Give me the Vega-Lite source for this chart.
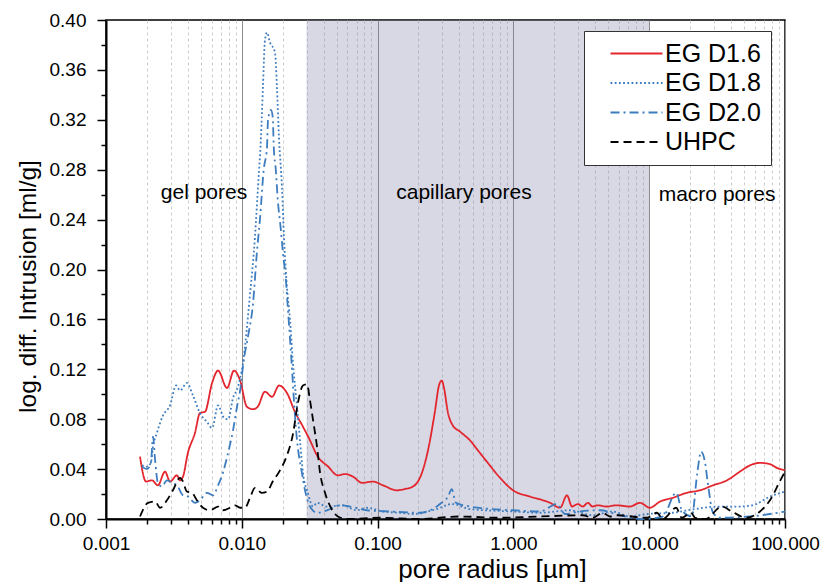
{
  "$schema": "https://vega.github.io/schema/vega-lite/v6.json",
  "width": 679,
  "height": 499,
  "autosize": "none",
  "padding": {"left": 106, "top": 20, "right": 39, "bottom": 63},
  "background": "white",
  "config": {
    "font": "Liberation Sans",
    "view": {"stroke": "black", "strokeWidth": 1.5},
    "axis": {
      "domainColor": "black", "domainWidth": 2,
      "tickColor": "black", "tickWidth": 1.5,
      "labelColor": "black", "titleColor": "black",
      "labelFont": "Liberation Sans", "titleFont": "Liberation Sans",
      "labelFontSize": 19, "titleFontSize": 26, "titleFontWeight": "normal",
      "labelPadding": 6
    }
  },
  "datasets": {
    "bands": [{"r": 0.03, "r2": 10}],
    "labels": [
      {"label": "gel pores", "r": 0.00527, "v": 0.2613},
      {"label": "capillary pores", "r": 0.4325, "v": 0.2613},
      {"label": "macro pores", "r": 31.6, "v": 0.2597}
    ],
    "curves": [
      {"series":"EG D1.6","r":0.00178,"v":0.050},{"series":"EG D1.6","r":0.00197,"v":0.030},{"series":"EG D1.6","r":0.00218,"v":0.031},{"series":"EG D1.6","r":0.00241,"v":0.027},{"series":"EG D1.6","r":0.00272,"v":0.038},{"series":"EG D1.6","r":0.00296,"v":0.030},{"series":"EG D1.6","r":0.00333,"v":0.035},{"series":"EG D1.6","r":0.00351,"v":0.031},{"series":"EG D1.6","r":0.00369,"v":0.034},{"series":"EG D1.6","r":0.00401,"v":0.053},{"series":"EG D1.6","r":0.00452,"v":0.069},{"series":"EG D1.6","r":0.00492,"v":0.085},{"series":"EG D1.6","r":0.00536,"v":0.086},{"series":"EG D1.6","r":0.00604,"v":0.109},{"series":"EG D1.6","r":0.00669,"v":0.119},{"series":"EG D1.6","r":0.00778,"v":0.105},{"series":"EG D1.6","r":0.00876,"v":0.119},{"series":"EG D1.6","r":0.00972,"v":0.111},{"series":"EG D1.6","r":0.0109,"v":0.090},{"series":"EG D1.6","r":0.0121,"v":0.088},{"series":"EG D1.6","r":0.0131,"v":0.090},{"series":"EG D1.6","r":0.0148,"v":0.102},{"series":"EG D1.6","r":0.0167,"v":0.098},{"series":"EG D1.6","r":0.0188,"v":0.107},{"series":"EG D1.6","r":0.0215,"v":0.101},{"series":"EG D1.6","r":0.0246,"v":0.086},{"series":"EG D1.6","r":0.0282,"v":0.074},{"series":"EG D1.6","r":0.0318,"v":0.063},{"series":"EG D1.6","r":0.0358,"v":0.051},{"series":"EG D1.6","r":0.0432,"v":0.042},{"series":"EG D1.6","r":0.0510,"v":0.035},{"series":"EG D1.6","r":0.0575,"v":0.036},{"series":"EG D1.6","r":0.0658,"v":0.034},{"series":"EG D1.6","r":0.0766,"v":0.029},{"series":"EG D1.6","r":0.0924,"v":0.030},{"series":"EG D1.6","r":0.1095,"v":0.027},{"series":"EG D1.6","r":0.139,"v":0.023},{"series":"EG D1.6","r":0.158,"v":0.024},{"series":"EG D1.6","r":0.182,"v":0.026},{"series":"EG D1.6","r":0.212,"v":0.037},{"series":"EG D1.6","r":0.235,"v":0.055},{"series":"EG D1.6","r":0.265,"v":0.087},{"series":"EG D1.6","r":0.283,"v":0.107},{"series":"EG D1.6","r":0.297,"v":0.111},{"series":"EG D1.6","r":0.307,"v":0.106},{"series":"EG D1.6","r":0.330,"v":0.085},{"series":"EG D1.6","r":0.358,"v":0.075},{"series":"EG D1.6","r":0.405,"v":0.070},{"series":"EG D1.6","r":0.479,"v":0.063},{"series":"EG D1.6","r":0.548,"v":0.055},{"series":"EG D1.6","r":0.648,"v":0.045},{"series":"EG D1.6","r":0.797,"v":0.033},{"series":"EG D1.6","r":0.993,"v":0.023},{"series":"EG D1.6","r":1.325,"v":0.018},{"series":"EG D1.6","r":1.861,"v":0.013},{"series":"EG D1.6","r":2.205,"v":0.009},{"series":"EG D1.6","r":2.48,"v":0.019},{"series":"EG D1.6","r":2.70,"v":0.010},{"series":"EG D1.6","r":2.98,"v":0.012},{"series":"EG D1.6","r":3.24,"v":0.010},{"series":"EG D1.6","r":3.53,"v":0.013},{"series":"EG D1.6","r":3.83,"v":0.010},{"series":"EG D1.6","r":4.16,"v":0.011},{"series":"EG D1.6","r":4.84,"v":0.010},{"series":"EG D1.6","r":5.73,"v":0.011},{"series":"EG D1.6","r":7.22,"v":0.010},{"series":"EG D1.6","r":8.55,"v":0.013},{"series":"EG D1.6","r":10.1,"v":0.009},{"series":"EG D1.6","r":12.03,"v":0.014},{"series":"EG D1.6","r":14.9,"v":0.017},{"series":"EG D1.6","r":18.9,"v":0.021},{"series":"EG D1.6","r":23.66,"v":0.023},{"series":"EG D1.6","r":29.5,"v":0.027},{"series":"EG D1.6","r":37.4,"v":0.031},{"series":"EG D1.6","r":46.6,"v":0.038},{"series":"EG D1.6","r":55.2,"v":0.043},{"series":"EG D1.6","r":65.4,"v":0.045},{"series":"EG D1.6","r":77.5,"v":0.044},{"series":"EG D1.6","r":87.1,"v":0.041},{"series":"EG D1.6","r":100,"v":0.039},

      {"series":"EG D1.8","r":0.00184,"v":0.043},{"series":"EG D1.8","r":0.0020,"v":0.042},{"series":"EG D1.8","r":0.00214,"v":0.045},{"series":"EG D1.8","r":0.00222,"v":0.058},{"series":"EG D1.8","r":0.00237,"v":0.069},{"series":"EG D1.8","r":0.00263,"v":0.083},{"series":"EG D1.8","r":0.00296,"v":0.091},{"series":"EG D1.8","r":0.00328,"v":0.107},{"series":"EG D1.8","r":0.00351,"v":0.103},{"series":"EG D1.8","r":0.00394,"v":0.109},{"series":"EG D1.8","r":0.00437,"v":0.099},{"series":"EG D1.8","r":0.00492,"v":0.085},{"series":"EG D1.8","r":0.00553,"v":0.078},{"series":"EG D1.8","r":0.00604,"v":0.073},{"series":"EG D1.8","r":0.00669,"v":0.091},{"series":"EG D1.8","r":0.00739,"v":0.081},{"series":"EG D1.8","r":0.00792,"v":0.080},{"series":"EG D1.8","r":0.00862,"v":0.097},{"series":"EG D1.8","r":0.00937,"v":0.106},{"series":"EG D1.8","r":0.0102,"v":0.125},{"series":"EG D1.8","r":0.01149,"v":0.180},{"series":"EG D1.8","r":0.0125,"v":0.226},{"series":"EG D1.8","r":0.01316,"v":0.266},{"series":"EG D1.8","r":0.01384,"v":0.306},{"series":"EG D1.8","r":0.01431,"v":0.346},{"series":"EG D1.8","r":0.01482,"v":0.384},{"series":"EG D1.8","r":0.01533,"v":0.390},{"series":"EG D1.8","r":0.01613,"v":0.382},{"series":"EG D1.8","r":0.01756,"v":0.374},{"series":"EG D1.8","r":0.01815,"v":0.346},{"series":"EG D1.8","r":0.01878,"v":0.306},{"series":"EG D1.8","r":0.01976,"v":0.266},{"series":"EG D1.8","r":0.02044,"v":0.226},{"series":"EG D1.8","r":0.0215,"v":0.186},{"series":"EG D1.8","r":0.02264,"v":0.160},{"series":"EG D1.8","r":0.0238,"v":0.125},{"series":"EG D1.8","r":0.0255,"v":0.090},{"series":"EG D1.8","r":0.02683,"v":0.063},{"series":"EG D1.8","r":0.0282,"v":0.037},{"series":"EG D1.8","r":0.0306,"v":0.021},{"series":"EG D1.8","r":0.0335,"v":0.010},{"series":"EG D1.8","r":0.0358,"v":0.013},{"series":"EG D1.8","r":0.0424,"v":0.010},{"series":"EG D1.8","r":0.0555,"v":0.011},{"series":"EG D1.8","r":0.0702,"v":0.007},{"series":"EG D1.8","r":0.0834,"v":0.009},{"series":"EG D1.8","r":0.1095,"v":0.006},{"series":"EG D1.8","r":0.146,"v":0.005},{"series":"EG D1.8","r":0.182,"v":0.004},{"series":"EG D1.8","r":0.272,"v":0.008},{"series":"EG D1.8","r":0.352,"v":0.012},{"series":"EG D1.8","r":0.479,"v":0.008},{"series":"EG D1.8","r":0.993,"v":0.006},{"series":"EG D1.8","r":1.57,"v":0.005},{"series":"EG D1.8","r":2.612,"v":0.007},{"series":"EG D1.8","r":3.83,"v":0.003},{"series":"EG D1.8","r":5.36,"v":0.006},{"series":"EG D1.8","r":7.22,"v":0.002},{"series":"EG D1.8","r":9.69,"v":0.004},{"series":"EG D1.8","r":14.9,"v":0.005},{"series":"EG D1.8","r":21.8,"v":0.008},{"series":"EG D1.8","r":33.2,"v":0.010},{"series":"EG D1.8","r":46.6,"v":0.010},{"series":"EG D1.8","r":57.6,"v":0.011},{"series":"EG D1.8","r":77.5,"v":0.018},{"series":"EG D1.8","r":100,"v":0.022},

      {"series":"EG D2.0","r":0.00184,"v":0.042},{"series":"EG D2.0","r":0.0020,"v":0.040},{"series":"EG D2.0","r":0.00214,"v":0.045},{"series":"EG D2.0","r":0.00222,"v":0.066},{"series":"EG D2.0","r":0.0023,"v":0.047},{"series":"EG D2.0","r":0.00241,"v":0.029},{"series":"EG D2.0","r":0.00258,"v":0.026},{"series":"EG D2.0","r":0.00281,"v":0.031},{"series":"EG D2.0","r":0.00306,"v":0.029},{"series":"EG D2.0","r":0.00333,"v":0.027},{"series":"EG D2.0","r":0.00369,"v":0.019},{"series":"EG D2.0","r":0.00401,"v":0.018},{"series":"EG D2.0","r":0.00452,"v":0.013},{"series":"EG D2.0","r":0.00492,"v":0.015},{"series":"EG D2.0","r":0.00553,"v":0.021},{"series":"EG D2.0","r":0.00614,"v":0.019},{"series":"EG D2.0","r":0.00669,"v":0.027},{"series":"EG D2.0","r":0.00726,"v":0.037},{"series":"EG D2.0","r":0.00792,"v":0.053},{"series":"EG D2.0","r":0.00862,"v":0.071},{"series":"EG D2.0","r":0.00922,"v":0.090},{"series":"EG D2.0","r":0.00972,"v":0.103},{"series":"EG D2.0","r":0.01033,"v":0.127},{"series":"EG D2.0","r":0.0111,"v":0.146},{"series":"EG D2.0","r":0.0121,"v":0.173},{"series":"EG D2.0","r":0.0129,"v":0.213},{"series":"EG D2.0","r":0.0136,"v":0.240},{"series":"EG D2.0","r":0.0145,"v":0.280},{"series":"EG D2.0","r":0.01533,"v":0.298},{"series":"EG D2.0","r":0.0156,"v":0.320},{"series":"EG D2.0","r":0.0164,"v":0.328},{"series":"EG D2.0","r":0.0169,"v":0.322},{"series":"EG D2.0","r":0.0172,"v":0.298},{"series":"EG D2.0","r":0.0178,"v":0.280},{"series":"EG D2.0","r":0.0184,"v":0.256},{"series":"EG D2.0","r":0.0193,"v":0.234},{"series":"EG D2.0","r":0.0201,"v":0.213},{"series":"EG D2.0","r":0.0211,"v":0.192},{"series":"EG D2.0","r":0.0218,"v":0.170},{"series":"EG D2.0","r":0.0226,"v":0.146},{"series":"EG D2.0","r":0.0255,"v":0.063},{"series":"EG D2.0","r":0.0277,"v":0.037},{"series":"EG D2.0","r":0.0292,"v":0.023},{"series":"EG D2.0","r":0.0318,"v":0.010},{"series":"EG D2.0","r":0.0358,"v":0.005},{"series":"EG D2.0","r":0.0424,"v":0.007},{"series":"EG D2.0","r":0.0528,"v":0.011},{"series":"EG D2.0","r":0.0626,"v":0.010},{"series":"EG D2.0","r":0.0834,"v":0.007},{"series":"EG D2.0","r":0.1234,"v":0.006},{"series":"EG D2.0","r":0.205,"v":0.005},{"series":"EG D2.0","r":0.288,"v":0.012},{"series":"EG D2.0","r":0.330,"v":0.018},{"series":"EG D2.0","r":0.3515,"v":0.024},{"series":"EG D2.0","r":0.377,"v":0.013},{"series":"EG D2.0","r":0.479,"v":0.010},{"series":"EG D2.0","r":0.673,"v":0.008},{"series":"EG D2.0","r":0.993,"v":0.007},{"series":"EG D2.0","r":1.57,"v":0.006},{"series":"EG D2.0","r":2.09,"v":0.012},{"series":"EG D2.0","r":2.40,"v":0.004},{"series":"EG D2.0","r":3.09,"v":0.006},{"series":"EG D2.0","r":4.34,"v":0.007},{"series":"EG D2.0","r":6.09,"v":0.003},{"series":"EG D2.0","r":8.84,"v":0.000},{"series":"EG D2.0","r":12.6,"v":0.002},{"series":"EG D2.0","r":15.8,"v":0.021},{"series":"EG D2.0","r":17.4,"v":0.007},{"series":"EG D2.0","r":20.6,"v":0.002},{"series":"EG D2.0","r":22.6,"v":0.037},{"series":"EG D2.0","r":24.1,"v":0.054},{"series":"EG D2.0","r":25.8,"v":0.045},{"series":"EG D2.0","r":27.0,"v":0.029},{"series":"EG D2.0","r":29.5,"v":0.005},{"series":"EG D2.0","r":33.2,"v":0.001},{"series":"EG D2.0","r":55.2,"v":0.002},{"series":"EG D2.0","r":77.5,"v":0.004},{"series":"EG D2.0","r":100,"v":0.006},

      {"series":"UHPC","r":0.00178,"v":0.002},{"series":"UHPC","r":0.00204,"v":0.013},{"series":"UHPC","r":0.0023,"v":0.014},{"series":"UHPC","r":0.0025,"v":0.009},{"series":"UHPC","r":0.00281,"v":0.015},{"series":"UHPC","r":0.00311,"v":0.023},{"series":"UHPC","r":0.00351,"v":0.033},{"series":"UHPC","r":0.00369,"v":0.030},{"series":"UHPC","r":0.00394,"v":0.022},{"series":"UHPC","r":0.00429,"v":0.021},{"series":"UHPC","r":0.00467,"v":0.015},{"series":"UHPC","r":0.00518,"v":0.009},{"series":"UHPC","r":0.00583,"v":0.007},{"series":"UHPC","r":0.00669,"v":0.010},{"series":"UHPC","r":0.00726,"v":0.007},{"series":"UHPC","r":0.00819,"v":0.009},{"series":"UHPC","r":0.00891,"v":0.011},{"series":"UHPC","r":0.00972,"v":0.009},{"series":"UHPC","r":0.01056,"v":0.009},{"series":"UHPC","r":0.01149,"v":0.017},{"series":"UHPC","r":0.0125,"v":0.025},{"series":"UHPC","r":0.0140,"v":0.021},{"series":"UHPC","r":0.01533,"v":0.022},{"series":"UHPC","r":0.0169,"v":0.030},{"series":"UHPC","r":0.0191,"v":0.039},{"series":"UHPC","r":0.0215,"v":0.051},{"series":"UHPC","r":0.0238,"v":0.068},{"series":"UHPC","r":0.0259,"v":0.093},{"series":"UHPC","r":0.0282,"v":0.107},{"series":"UHPC","r":0.0302,"v":0.108},{"series":"UHPC","r":0.0318,"v":0.095},{"series":"UHPC","r":0.0335,"v":0.079},{"series":"UHPC","r":0.0358,"v":0.058},{"series":"UHPC","r":0.0377,"v":0.037},{"series":"UHPC","r":0.041,"v":0.021},{"series":"UHPC","r":0.0464,"v":0.007},{"series":"UHPC","r":0.0510,"v":0.002},{"series":"UHPC","r":0.0594,"v":0.000},{"series":"UHPC","r":0.104,"v":0.001},{"series":"UHPC","r":0.205,"v":0.000},{"series":"UHPC","r":0.40,"v":0.002},{"series":"UHPC","r":0.80,"v":0.001},{"series":"UHPC","r":1.57,"v":0.002},{"series":"UHPC","r":3.24,"v":0.003},{"series":"UHPC","r":3.83,"v":0.001},{"series":"UHPC","r":4.55,"v":0.005},{"series":"UHPC","r":5.14,"v":0.002},{"series":"UHPC","r":5.73,"v":0.003},{"series":"UHPC","r":9.69,"v":0.001},{"series":"UHPC","r":11.4,"v":0.005},{"series":"UHPC","r":12.6,"v":0.000},{"series":"UHPC","r":15.8,"v":0.009},{"series":"UHPC","r":17.4,"v":0.001},{"series":"UHPC","r":20.3,"v":0.005},{"series":"UHPC","r":21.8,"v":0.001},{"series":"UHPC","r":25.9,"v":0.000},{"series":"UHPC","r":34.3,"v":0.010},{"series":"UHPC","r":40.6,"v":0.006},{"series":"UHPC","r":51.9,"v":0.001},{"series":"UHPC","r":65.4,"v":0.006},{"series":"UHPC","r":77.5,"v":0.015},{"series":"UHPC","r":92.4,"v":0.031},{"series":"UHPC","r":100,"v":0.038}
    ]
  },
  "encoding": {
    "x": {
      "field": "r", "type": "quantitative",
      "scale": {"type": "log", "domain": [0.001, 100], "nice": false},
      "axis": {
        "title": "pore radius [µm]",
        "values": [0.001,0.002,0.003,0.004,0.005,0.006,0.007,0.008,0.009,0.01,0.02,0.03,0.04,0.05,0.06,0.07,0.08,0.09,0.1,0.2,0.3,0.4,0.5,0.6,0.7,0.8,0.9,1,2,3,4,5,6,7,8,9,10,20,30,40,50,60,70,80,90,100],
        "labelExpr": "abs(log(datum.value)/LN10 - round(log(datum.value)/LN10)) < 0.001 ? format(datum.value, '.3f') : ''",
        "labelOverlap": false,
        "labelFlush": false,
        "labelPadding": 6,
        "tickSize": {"condition": {"test": "abs(log(datum.value)/LN10 - round(log(datum.value)/LN10)) < 0.001", "value": 9}, "value": 5},
        "grid": true,
        "gridDash": {"condition": {"test": "abs(log(datum.value)/LN10 - round(log(datum.value)/LN10)) < 0.001", "value": []}, "value": [3, 3]},
        "gridColor": {"condition": {"test": "abs(log(datum.value)/LN10 - round(log(datum.value)/LN10)) < 0.001", "value": "#8c8c8c"}, "value": "#cdcdcd"},
        "gridWidth": 1,
        "titleX": 386,
        "titleY": 50,
        "titleBaseline": "middle"
      }
    },
    "y": {
      "field": "v", "type": "quantitative",
      "scale": {"domain": [0, 0.4], "nice": false},
      "axis": {
        "title": "log. diff. Intrusion [ml/g]",
        "titleFontSize": 24.5,
        "values": [0,0.02,0.04,0.06,0.08,0.1,0.12,0.14,0.16,0.18,0.2,0.22,0.24,0.26,0.28,0.3,0.32,0.34,0.36,0.38,0.4],
        "labelExpr": "abs(datum.value*25 - round(datum.value*25)) < 0.001 ? format(datum.value, '.2f') : ''",
        "labelOverlap": false,
        "labelFlush": false,
        "labelPadding": 11,
        "tickSize": {"condition": {"test": "abs(datum.value*25 - round(datum.value*25)) < 0.001", "value": 9}, "value": 5},
        "grid": false,
        "titleX": -78,
        "titleY": 266,
        "titleBaseline": "middle"
      }
    }
  },
  "layer": [
    {
      "data": {"name": "bands"},
      "mark": {"type": "rect", "fill": "#7d7da5", "fillOpacity": 0.3},
      "encoding": {
        "x2": {"field": "r2"},
        "y": {"value": 0},
        "y2": {"value": "height"}
      }
    },
    {
      "data": {"name": "curves"},
      "mark": {"type": "line", "interpolate": "monotone", "strokeWidth": 1.8},
      "encoding": {
        "color": {
          "field": "series", "type": "nominal",
          "scale": {"domain": ["EG D1.6", "EG D1.8", "EG D2.0", "UHPC"], "range": ["#e3262e", "#3d7dbf", "#3d7dbf", "#000000"]},
          "legend": {
            "title": null, "orient": "none", "legendX": 478, "legendY": 11,
            "fillColor": "white", "strokeColor": "#333333", "padding": 10,
            "labelFontSize": 25, "labelFont": "Liberation Sans", "labelColor": "black",
            "symbolType": "M-3,0H3", "symbolSize": 300, "symbolStrokeWidth": 2,
            "symbolOffset": 30, "labelOffset": 16, "rowPadding": 3.5, "labelLimit": 300
          }
        },
        "strokeDash": {
          "field": "series", "type": "nominal",
          "scale": {"domain": ["EG D1.6", "EG D1.8", "EG D2.0", "UHPC"], "range": [[1, 0], [1.8, 2.4], [9, 4, 2, 4], [8, 5]]},
          "legend": {
            "title": null, "orient": "none", "legendX": 478, "legendY": 11,
            "fillColor": "white", "strokeColor": "#333333", "padding": 10,
            "labelFontSize": 25, "labelFont": "Liberation Sans", "labelColor": "black",
            "symbolType": "M-3,0H3", "symbolSize": 300, "symbolStrokeWidth": 2,
            "symbolOffset": 30, "labelOffset": 16, "rowPadding": 3.5, "labelLimit": 300
          }
        }
      }
    },
    {
      "data": {"name": "labels"},
      "mark": {"type": "text", "fontSize": 21, "font": "Liberation Sans", "color": "black"},
      "encoding": {
        "text": {"field": "label"}
      }
    }
  ]
}
